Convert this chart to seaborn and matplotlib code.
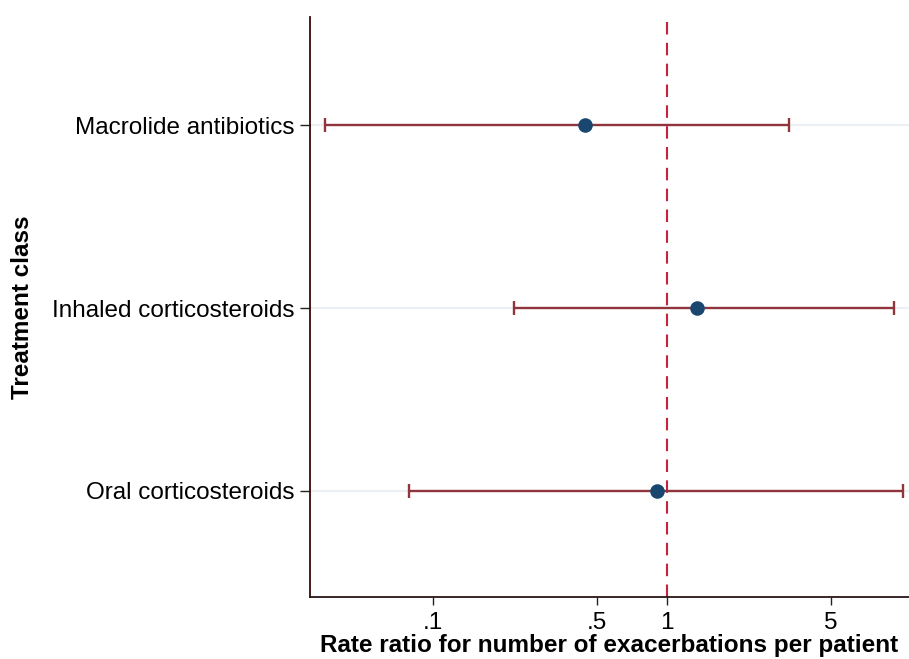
import numpy as np
import pandas as pd
import matplotlib
matplotlib.use("Agg")
import matplotlib.pyplot as plt
import seaborn as sns

# Data
treatments = ["Macrolide antibiotics", "Inhaled corticosteroids", "Oral corticosteroids"]
rate_ratio = [0.446, 1.34, 0.906]
ci_low = [0.0345, 0.222, 0.0789]
ci_high = [3.32, 9.33, 10.2]
x_ticks = [0.1, 0.5, 1, 5]
x_tick_labels = [".1", ".5", "1", "5"]

df = pd.DataFrame({
    "treatment": treatments,
    "rr": rate_ratio,
    "lo": ci_low,
    "hi": ci_high,
})
df["pos"] = np.arange(len(df))

sns.set_style("white")
plt.rcParams["font.family"] = ["Liberation Sans", "DejaVu Sans"]
plt.rcParams["text.color"] = "black"
plt.rcParams["axes.labelcolor"] = "black"
plt.rcParams["xtick.labelcolor"] = "black"
plt.rcParams["ytick.labelcolor"] = "black"

fig = plt.figure(figsize=(9.09, 6.59), dpi=100)
ax = fig.add_axes([0.341, 0.094, 0.659, 0.880])

# Light horizontal grid at each category
for p in df["pos"]:
    ax.axhline(p, color="#eaf0f3", lw=1.5, zorder=0)

# Reference line at 1
ax.axvline(1, color="#c8203f", lw=1.5, dashes=(6, 4), zorder=1)

# Confidence intervals
ax.errorbar(
    df["rr"], df["pos"],
    xerr=[df["rr"] - df["lo"], df["hi"] - df["rr"]],
    fmt="none", ecolor="#90353b", elinewidth=1.7, capsize=5, capthick=1.7, zorder=2,
)

# Point estimates
sns.scatterplot(data=df, x="rr", y="pos", color="#1a476f", s=110, edgecolor="#1a476f",
                linewidth=0, zorder=3, ax=ax)

ax.set_xscale("log")
ax.set_xlim(0.0298, 10.8)
ax.set_ylim(2.58, -0.59)
ax.set_xticks(x_ticks)
ax.set_xticklabels(x_tick_labels)
ax.minorticks_off()
ax.set_yticks(df["pos"])
ax.set_yticklabels(df["treatment"])

ax.tick_params(axis="x", direction="out", length=6, width=1, color="#222222",
               labelsize=17.5, pad=5, bottom=True)
ax.tick_params(axis="y", direction="out", length=7, width=1, color="#222222",
               labelsize=17.5, pad=4, left=True)

ax.set_xlabel("Rate ratio for number of exacerbations per patient", fontsize=17.5,
              fontweight="bold", labelpad=0)
ax.set_ylabel("Treatment class", fontsize=17.5, fontweight="bold", labelpad=13)

for side in ["top", "right"]:
    ax.spines[side].set_visible(False)
ax.spines["left"].set_color("#3a0808")
ax.spines["bottom"].set_color("#2a1515")
ax.spines["left"].set_linewidth(1.3)
ax.spines["bottom"].set_linewidth(1.3)

fig.savefig("out.png", dpi=100, facecolor="white")
